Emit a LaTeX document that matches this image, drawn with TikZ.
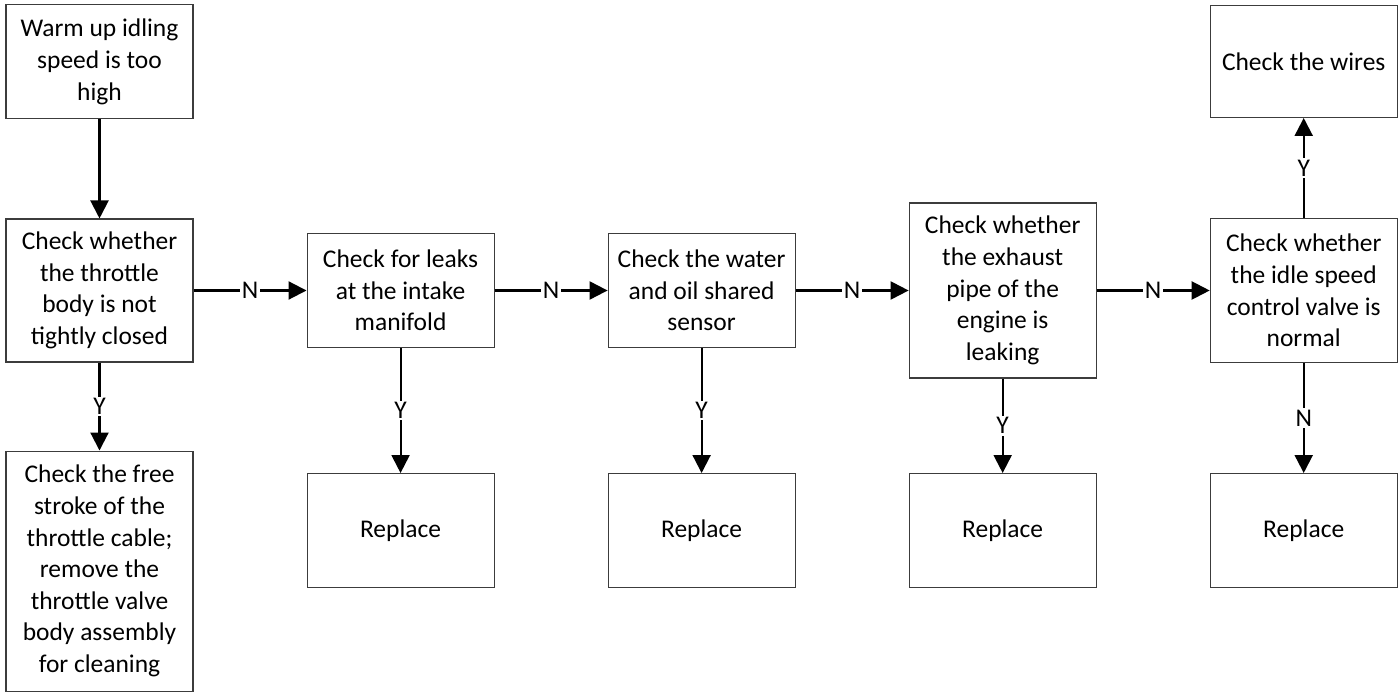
\documentclass[tikz,border=0pt]{standalone}
\usepackage{fontspec}
\setmainfont{Carlito}
\usepackage{tikz}
\usetikzlibrary{arrows.meta,positioning}
\definecolor{edgecol}{RGB}{60,60,60}
\tikzset{
  block/.style ={rectangle, draw=edgecol, line width=0.6pt, align=center,
                 minimum width=37.4mm, minimum height=22.8mm, inner sep=1mm,
                 font=\fontsize{14.5}{18}\selectfont},
  flow/.style  ={-{Triangle[length=3.6mm, width=3.6mm]}, line width=1.2pt},
  lbl/.style   ={font=\fontsize{14.5}{18}\selectfont, fill=white, inner sep=1pt},
}

\begin{document}
\begin{tikzpicture}
    \useasboundingbox (-1.99,5.81) rectangle (25.97,-8.05);
    % main row (checks)
    \node[block, minimum height=28.6mm] (throttle) at (0,0)
        {Check whether\\the throttle\\body is not\\tightly closed};
    \node[block, right=22.6mm of throttle] (intake)
        {Check for leaks\\at the intake\\manifold};
    \node[block, right=22.6mm of intake] (water)
        {Check the water\\and oil shared\\sensor};
    \node[block, minimum height=35mm, right=22.6mm of water] (exhaust)
        {Check whether\\the exhaust\\pipe of the\\engine is\\leaking};
    \node[block, minimum height=28.8mm, right=22.6mm of exhaust] (idle)
        {Check whether\\the idle speed\\control valve is\\normal};

    % top row
    \node[block, above=19.8mm of throttle] (start)
        {Warm up idling\\speed is too\\high};
    \node[block, minimum height=22.4mm, above=20mm of idle] (wires)
        {Check the wires};

    % bottom row
    \node[block, minimum height=48mm, below=17.6mm of throttle] (clean)
        {Check the free\\stroke of the\\throttle cable;\\remove the\\throttle valve\\body assembly\\for cleaning};
    \node[block, below=25mm of intake] (rep1) {Replace};
    \node[block] (rep2) at (water |- rep1) {Replace};
    \node[block] (rep3) at (exhaust |- rep1) {Replace};
    \node[block] (rep4) at (idle |- rep1) {Replace};

    % connectors
    \draw[flow] (start) -- (throttle);
    \draw[flow] (throttle) -- node[lbl]{N} (intake);
    \draw[flow] (intake) -- node[lbl]{N} (water);
    \draw[flow] (water) -- node[lbl]{N} (exhaust);
    \draw[flow] (exhaust) -- node[lbl]{N} (idle);
    \draw[flow] (throttle) -- node[lbl]{Y} (clean);
    \draw[flow] (intake) -- node[lbl]{Y} (rep1);
    \draw[flow] (water) -- node[lbl]{Y} (rep2);
    \draw[flow] (exhaust) -- node[lbl]{Y} (rep3);
    \draw[flow] (idle) -- node[lbl]{N} (rep4);
    \draw[flow] (idle) -- node[lbl]{Y} (wires);
\end{tikzpicture}
\end{document}
